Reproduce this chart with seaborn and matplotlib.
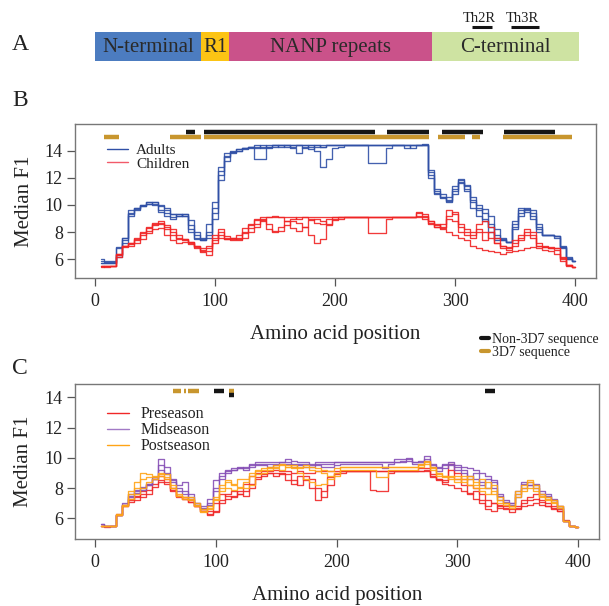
import matplotlib
matplotlib.use("Agg")
import matplotlib.pyplot as plt
import numpy as np
import pandas as pd
import seaborn as sns
from matplotlib.lines import Line2D

# ---------------- data ----------------
positions = [5, 10, 15, 20, 25, 30, 35, 40, 45, 50,
             55, 60, 65, 70, 75, 80, 85, 90, 95, 100,
             105, 110, 115, 120, 125, 130, 135, 140, 145, 150,
             155, 160, 165, 170, 175, 180, 185, 190, 195, 200,
             205, 210, 215, 220, 225, 230, 235, 240, 245, 250,
             255, 260, 265, 270, 275, 280, 285, 290, 295, 300,
             305, 310, 315, 320, 325, 330, 335, 340, 345, 350,
             355, 360, 365, 370, 375, 380, 385, 390, 395, 400]

# Panel B - adults (blue)
adults_1 = [6.0, 5.9, 5.9, 6.9, 7.6, 9.6, 9.8, 10.0, 10.2, 10.2,
            10.0, 9.8, 9.3, 9.2, 9.3, 8.9, 8.0, 7.6, 8.6, 10.2,
            12.8, 13.8, 14.0, 14.1, 14.2, 14.3, 13.4, 13.4, 14.2, 14.3,
            14.4, 14.4, 14.3, 14.4, 14.4, 14.4, 14.4, 14.3, 14.4, 14.4,
            14.4, 14.4, 14.4, 14.4, 14.4, 14.4, 14.4, 14.4, 14.4, 14.4,
            14.4, 14.4, 14.4, 14.4, 14.5, 12.4, 11.0, 10.6, 10.4, 11.0,
            11.8, 11.4, 10.2, 9.8, 9.4, 8.6, 7.6, 7.4, 7.3, 8.6,
            9.6, 9.8, 9.4, 8.2, 7.8, 7.8, 7.7, 7.0, 6.2, 5.9]
adults_2 = [5.75, 5.7, 5.7, 6.2, 7.4, 9.2, 9.6, 9.9, 10.1, 10.2,
            9.5, 9.2, 9.0, 9.3, 9.2, 8.2, 7.6, 7.4, 7.6, 9.8,
            12.5, 13.6, 13.9, 14.1, 14.2, 14.2, 14.4, 14.3, 14.4, 14.4,
            14.3, 14.4, 14.4, 14.4, 14.2, 14.3, 14.0, 12.8, 13.4, 14.2,
            14.3, 14.4, 14.4, 14.4, 14.4, 14.4, 14.4, 14.4, 14.4, 14.4,
            14.4, 14.2, 14.4, 14.4, 14.4, 12.0, 10.8, 10.5, 10.3, 11.2,
            11.6, 11.2, 9.8, 9.2, 8.8, 8.0, 7.4, 7.4, 7.3, 8.2,
            9.4, 9.6, 9.2, 8.0, 7.8, 7.8, 7.6, 6.8, 6.0, 5.9]
adults_3 = [5.9, 5.8, 5.8, 6.8, 7.6, 9.4, 9.8, 10.0, 10.1, 10.0,
            9.9, 9.6, 9.3, 9.3, 9.2, 8.5, 7.8, 7.5, 8.0, 9.4,
            11.8, 13.2, 13.8, 14.0, 14.2, 14.3, 14.3, 14.2, 14.3, 14.4,
            14.4, 14.4, 14.2, 13.8, 14.3, 14.4, 14.3, 14.4, 14.4, 14.4,
            14.4, 14.4, 14.4, 14.4, 14.4, 13.1, 13.1, 13.1, 14.2, 14.4,
            14.4, 14.4, 14.4, 14.4, 14.4, 12.6, 11.2, 10.8, 10.6, 11.4,
            11.9, 11.0, 10.6, 10.0, 9.0, 8.4, 7.8, 7.5, 7.3, 8.8,
            9.8, 9.5, 9.0, 8.4, 7.8, 7.8, 7.7, 6.9, 6.1, 5.9]
adults_4 = [5.75, 5.7, 5.7, 6.3, 7.2, 9.3, 9.7, 9.9, 10.2, 10.1,
            9.6, 9.4, 9.1, 9.2, 9.3, 8.0, 7.5, 7.4, 7.8, 9.0,
            12.2, 13.5, 13.9, 14.0, 14.1, 14.3, 14.2, 14.4, 14.3, 14.4,
            14.4, 14.3, 14.4, 14.4, 14.4, 14.1, 14.4, 14.3, 14.4, 14.4,
            14.4, 14.4, 14.4, 14.4, 14.4, 14.4, 14.4, 14.4, 14.4, 14.4,
            14.4, 14.4, 14.2, 14.4, 14.4, 12.2, 10.9, 10.6, 10.2, 10.8,
            11.7, 11.5, 10.4, 9.6, 9.7, 9.2, 8.2, 7.6, 7.3, 8.4,
            9.2, 9.7, 9.6, 8.6, 7.8, 7.8, 7.7, 6.9, 6.0, 5.9]

# Panel B - children (red)
children_1 = [5.5, 5.5, 5.5, 6.4, 7.0, 7.2, 7.6, 8.0, 8.4, 8.7,
              8.8, 8.5, 8.2, 7.8, 7.5, 7.3, 7.0, 6.7, 7.0, 7.8,
              7.6, 7.5, 7.6, 7.8, 8.3, 8.6, 9.0, 9.1, 9.1, 9.1,
              9.1, 9.1, 9.1, 9.0, 9.1, 9.1, 9.1, 9.1, 9.1, 9.1,
              9.1, 9.1, 9.1, 9.1, 9.1, 9.1, 9.1, 9.1, 9.1, 9.1,
              9.1, 9.1, 9.1, 9.5, 9.3, 8.8, 8.6, 8.4, 9.6, 9.3,
              8.6, 8.2, 8.0, 8.6, 8.8, 8.4, 7.6, 7.0, 6.9, 7.4,
              7.8, 8.2, 8.0, 7.2, 7.0, 6.9, 6.8, 6.2, 5.6, 5.45]
children_2 = [5.45, 5.5, 5.5, 6.2, 6.9, 7.0, 7.2, 7.5, 7.9, 8.2,
              8.3, 7.8, 7.4, 7.2, 7.3, 7.1, 6.8, 6.5, 6.3, 7.2,
              7.8, 7.5, 7.4, 7.4, 7.6, 8.0, 8.4, 8.8, 8.2, 8.1,
              8.4, 8.8, 8.8, 8.7, 8.4, 7.8, 7.2, 7.5, 8.5, 8.9,
              9.0, 9.1, 9.1, 9.1, 9.1, 7.9, 7.9, 7.9, 9.0, 9.1,
              9.1, 9.1, 9.1, 9.1, 9.1, 8.8, 8.4, 8.2, 8.0, 7.8,
              7.6, 7.4, 7.0, 6.8, 6.7, 6.6, 6.5, 6.4, 6.5, 6.6,
              6.7, 6.8, 6.9, 6.8, 6.7, 6.6, 6.4, 5.9, 5.5, 5.45]
children_3 = [5.5, 5.45, 5.5, 6.3, 7.0, 7.1, 7.4, 7.8, 8.1, 8.5,
              8.6, 8.2, 7.8, 7.5, 7.4, 7.2, 6.9, 6.6, 6.6, 7.4,
              8.2, 7.7, 7.6, 7.5, 7.9, 8.3, 8.6, 8.9, 9.1, 9.2,
              9.1, 8.8, 8.3, 8.1, 8.4, 8.9, 9.0, 8.8, 8.6, 9.0,
              9.1, 9.1, 9.1, 9.1, 9.1, 9.1, 9.1, 9.1, 9.1, 9.1,
              9.1, 9.1, 9.1, 9.4, 9.2, 8.7, 8.5, 8.3, 9.2, 9.5,
              8.4, 8.0, 7.8, 8.2, 8.0, 7.6, 7.2, 6.8, 6.7, 7.0,
              7.4, 7.8, 7.6, 7.0, 6.9, 6.8, 6.8, 6.1, 5.6, 5.45]
children_4 = [5.5, 5.5, 5.5, 6.4, 7.0, 7.2, 7.5, 7.9, 8.3, 8.6,
              8.7, 8.4, 8.0, 7.6, 7.5, 7.3, 7.0, 6.8, 6.8, 7.6,
              8.0, 7.6, 7.5, 7.6, 8.0, 8.5, 8.9, 9.0, 8.6, 8.0,
              8.1, 8.5, 9.0, 9.1, 9.1, 9.0, 8.7, 8.6, 9.0, 9.1,
              9.1, 9.1, 9.1, 9.1, 9.1, 9.1, 9.1, 9.1, 9.1, 9.1,
              9.1, 9.1, 9.1, 9.2, 9.0, 8.6, 8.4, 8.6, 9.0, 8.8,
              8.0, 7.8, 7.6, 8.0, 7.4, 8.0, 7.2, 7.0, 6.8, 7.2,
              7.6, 8.0, 7.8, 7.0, 6.9, 6.8, 6.7, 6.0, 5.6, 5.45]

# Panel C - preseason (red)
pre_1 = [5.5, 5.5, 5.5, 6.2, 6.8, 7.1, 7.2, 7.4, 7.6, 8.1,
         8.4, 8.3, 7.8, 7.5, 7.3, 7.2, 6.8, 6.5, 6.3, 6.5,
         7.2, 7.3, 7.5, 7.6, 7.8, 8.3, 8.7, 8.8, 9.0, 8.8,
         9.0, 8.5, 8.3, 8.8, 8.5, 8.0, 7.2, 7.8, 8.7, 9.0,
         9.1, 9.1, 9.1, 9.1, 9.1, 7.9, 7.8, 7.8, 9.0, 9.1,
         9.1, 9.1, 9.1, 9.1, 9.1, 8.8, 8.6, 8.3, 8.2, 8.0,
         7.8, 7.7, 7.3, 7.0, 6.6, 6.5, 6.8, 6.7, 6.6, 6.7,
         6.8, 6.9, 7.0, 6.9, 6.8, 6.6, 6.5, 5.8, 5.5, 5.45]
pre_2 = [5.5, 5.45, 5.5, 6.3, 6.9, 7.3, 7.5, 7.8, 8.2, 8.6,
         8.8, 8.6, 8.0, 7.4, 7.4, 7.1, 6.8, 6.6, 6.5, 7.0,
         7.6, 7.5, 7.4, 7.8, 8.3, 8.8, 9.0, 9.1, 9.1, 9.2,
         9.1, 9.1, 9.0, 9.1, 9.0, 9.0, 9.1, 9.1, 9.1, 9.1,
         9.1, 9.1, 9.1, 9.1, 9.1, 9.1, 9.1, 9.1, 9.1, 9.1,
         9.1, 9.1, 9.1, 9.3, 9.3, 8.9, 8.6, 8.5, 9.6, 9.0,
         8.6, 8.2, 8.0, 7.6, 7.2, 7.0, 6.9, 6.8, 6.8, 6.8,
         7.0, 7.2, 7.3, 7.1, 7.0, 6.8, 6.6, 5.9, 5.5, 5.45]
pre_3 = [5.5, 5.5, 5.5, 6.2, 6.8, 7.2, 7.4, 7.6, 7.9, 8.3,
         8.5, 8.4, 7.9, 7.5, 7.3, 7.1, 6.8, 6.5, 6.2, 6.4,
         7.0, 7.6, 7.8, 7.6, 7.5, 8.0, 8.6, 8.9, 9.0, 9.0,
         8.9, 8.9, 8.5, 8.2, 8.8, 8.6, 8.0, 7.4, 8.2, 8.9,
         9.0, 9.1, 9.1, 9.1, 9.1, 9.1, 9.1, 9.1, 9.1, 9.1,
         9.1, 9.1, 9.1, 9.1, 9.2, 8.7, 8.5, 8.4, 9.2, 8.6,
         8.2, 7.6, 7.8, 7.2, 6.8, 7.0, 6.7, 6.6, 6.4, 6.6,
         7.2, 7.4, 7.6, 7.2, 6.8, 6.7, 6.5, 5.8, 5.5, 5.45]

# Panel C - midseason (purple)
mid_1 = [5.6, 5.5, 5.5, 6.2, 7.0, 7.6, 7.9, 8.1, 8.3, 8.6,
         9.9, 9.4, 8.6, 8.2, 8.4, 7.6, 7.0, 6.8, 7.3, 8.5,
         9.0, 9.2, 9.3, 9.4, 9.2, 9.6, 9.7, 9.7, 9.7, 9.7,
         9.7, 9.9, 9.8, 9.7, 9.7, 9.6, 9.7, 9.7, 9.7, 9.7,
         9.7, 9.7, 9.7, 9.7, 9.7, 9.7, 9.7, 9.7, 9.7, 9.7,
         9.8, 10.0, 9.7, 9.8, 10.1, 9.6, 9.4, 9.6, 9.7, 9.5,
         9.4, 9.3, 9.2, 9.0, 8.8, 8.5, 7.5, 7.2, 7.0, 7.6,
         8.3, 8.4, 8.2, 7.8, 7.6, 7.3, 6.8, 5.8, 5.5, 5.45]
mid_2 = [5.6, 5.5, 5.5, 6.2, 6.9, 7.5, 7.7, 7.9, 8.2, 8.6,
         9.2, 8.9, 8.4, 7.8, 7.6, 7.3, 6.9, 6.6, 7.0, 8.0,
         8.6, 9.0, 9.2, 9.3, 9.4, 9.4, 9.5, 9.5, 9.4, 9.5,
         9.6, 9.6, 9.4, 9.5, 9.4, 9.4, 9.5, 9.4, 9.4, 9.5,
         9.6, 9.6, 9.6, 9.6, 9.6, 9.6, 9.6, 9.3, 9.6, 9.7,
         9.7, 9.8, 9.6, 9.6, 9.8, 9.4, 9.1, 9.3, 9.5, 9.2,
         9.0, 8.8, 8.6, 8.2, 8.6, 8.0, 7.2, 7.0, 6.9, 7.4,
         8.0, 8.2, 8.0, 7.6, 7.4, 7.2, 6.8, 5.8, 5.5, 5.45]
mid_3 = [5.5, 5.5, 5.5, 6.2, 6.9, 7.4, 7.8, 8.0, 8.3, 8.7,
         9.5, 9.0, 8.5, 8.0, 7.8, 7.4, 7.0, 6.7, 6.9, 7.8,
         8.8, 9.1, 9.2, 9.3, 9.3, 9.5, 9.6, 9.6, 9.6, 9.6,
         9.7, 9.7, 9.6, 9.6, 9.6, 9.5, 9.6, 9.6, 9.6, 9.7,
         9.7, 9.7, 9.7, 9.7, 9.7, 9.7, 9.7, 9.7, 9.7, 9.9,
         9.9, 9.9, 9.7, 9.7, 9.9, 9.5, 9.3, 9.5, 9.6, 9.4,
         9.2, 8.6, 9.0, 8.4, 8.0, 8.4, 7.6, 7.1, 7.0, 7.8,
         8.4, 8.2, 8.3, 7.6, 7.5, 7.2, 6.7, 5.8, 5.5, 5.45]

# Panel C - postseason (orange)
post_1 = [5.5, 5.5, 5.5, 6.2, 6.9, 7.8, 8.4, 9.0, 8.9, 8.8,
          9.0, 8.9, 8.2, 7.5, 7.4, 7.4, 7.0, 6.6, 6.8, 7.4,
          8.2, 8.4, 8.2, 8.1, 8.0, 8.2, 9.2, 9.3, 9.4, 9.5,
          9.5, 9.4, 9.5, 9.4, 9.5, 9.4, 9.3, 9.0, 8.8, 9.0,
          9.4, 9.4, 9.4, 9.4, 9.4, 9.4, 9.4, 9.4, 9.4, 9.4,
          9.4, 9.4, 9.4, 9.6, 9.8, 9.4, 9.0, 8.8, 8.8, 8.6,
          8.8, 8.6, 8.4, 8.0, 8.4, 7.6, 7.2, 7.0, 6.8, 7.8,
          8.2, 8.5, 8.2, 7.6, 7.4, 7.2, 6.8, 5.8, 5.5, 5.45]
post_2 = [5.5, 5.5, 5.5, 6.2, 6.8, 7.3, 7.6, 8.0, 8.4, 8.6,
          8.9, 8.6, 8.0, 7.6, 7.4, 7.2, 6.8, 6.4, 6.6, 7.2,
          7.8, 8.0, 7.9, 8.0, 8.4, 8.8, 8.9, 9.0, 9.2, 9.3,
          9.2, 9.4, 9.3, 9.0, 8.6, 8.4, 8.2, 8.3, 8.6, 8.8,
          9.2, 9.2, 9.2, 9.2, 9.2, 9.2, 8.7, 8.7, 9.2, 9.2,
          9.2, 9.2, 9.2, 9.4, 9.6, 9.2, 8.8, 8.7, 8.6, 8.4,
          8.6, 8.2, 8.0, 7.8, 7.6, 7.8, 7.0, 6.9, 6.7, 7.4,
          7.8, 8.0, 7.8, 7.4, 7.2, 7.0, 6.7, 5.8, 5.5, 5.45]
post_3 = [5.5, 5.5, 5.5, 6.3, 6.9, 7.6, 8.0, 8.6, 8.7, 8.7,
          8.8, 8.7, 8.0, 7.5, 7.3, 7.3, 6.9, 6.5, 6.7, 7.3,
          8.0, 8.5, 8.3, 8.6, 8.6, 9.0, 9.1, 9.2, 9.3, 9.4,
          9.6, 9.5, 9.4, 9.3, 9.4, 9.2, 9.1, 9.2, 9.1, 9.3,
          9.4, 9.4, 9.4, 9.4, 9.4, 9.4, 9.4, 9.4, 9.4, 9.4,
          9.4, 9.4, 9.4, 9.5, 9.7, 9.3, 8.9, 8.8, 8.7, 8.8,
          8.4, 8.8, 8.2, 8.6, 8.0, 8.2, 7.4, 7.0, 6.8, 7.6,
          8.0, 8.4, 8.0, 7.5, 7.3, 7.1, 6.8, 5.8, 5.5, 5.45]

# Sequence markers (start, end of amino-acid ranges)
b_3d7_start = [8, 63, 91, 286, 314, 340]
b_3d7_end = [20, 88.5, 278, 308, 320.5, 397]
b_non3d7_start = [76, 91, 243.5, 289, 340.5]
b_non3d7_end = [83.5, 233, 278, 323.5, 383]
c_3d7_start = [65, 73.5, 77.5, 111]
c_3d7_end = [71.3, 75.7, 86.6, 115]
c_non3d7_start = [98.4, 322.5]
c_non3d7_end = [106.7, 331.4]
c_non3d7_low_start = [111]
c_non3d7_low_end = [115]

# Panel A domains
domain_names = ["N-terminal", "R1", "NANP repeats", "C-terminal"]
domain_start = [0, 89, 111.7, 280.4]
domain_end = [89, 111.7, 280.4, 403]
domain_colors = ["#4c7cc0", "#fcc414", "#ca528a", "#cee3a2"]
epitope_names = ["Th2R", "Th3R"]
epitope_start = [314.4, 346.3]
epitope_end = [330.5, 369.8]

# ---------------- styling ----------------
sns.set_theme(style="white")
plt.rcParams["font.family"] = ["Liberation Serif", "DejaVu Serif"]
plt.rcParams["text.color"] = "#222222"
plt.rcParams["axes.labelcolor"] = "#222222"

W, H = 609, 606
fig = plt.figure(figsize=(W / 100, H / 100), dpi=100)
axB = fig.add_axes([75.3 / W, 1 - 278 / H, 520.4 / W, 154 / H])
axC = fig.add_axes([75.3 / W, 1 - 539 / H, 523.7 / W, 155 / H])
axA = fig.add_axes([75.3 / W, 1 - 75 / H, 520.4 / W, 65 / H])


def long_df(lines):
    rows = []
    for group, unit, vals in lines:
        for p, v in zip(positions, vals):
            rows.append((group, unit, p, v))
    return pd.DataFrame(rows, columns=["group", "unit", "pos", "f1"])


df_b = long_df([("Adults", "a1", adults_1), ("Adults", "a2", adults_2),
                ("Adults", "a3", adults_3), ("Adults", "a4", adults_4),
                ("Children", "c1", children_1), ("Children", "c2", children_2),
                ("Children", "c3", children_3), ("Children", "c4", children_4)])
df_c = long_df([("Preseason", "p1", pre_1), ("Preseason", "p2", pre_2),
                ("Preseason", "p3", pre_3),
                ("Midseason", "m1", mid_1), ("Midseason", "m2", mid_2),
                ("Midseason", "m3", mid_3),
                ("Postseason", "q1", post_1), ("Postseason", "q2", post_2),
                ("Postseason", "q3", post_3)])

pal_b = {"Adults": "#3050a6", "Children": "#f02424"}
pal_c = {"Preseason": "#f02828", "Midseason": "#8650b6", "Postseason": "#ffa416"}

sns.lineplot(data=df_b, x="pos", y="f1", hue="group", units="unit",
             estimator=None, palette=pal_b, hue_order=["Adults", "Children"],
             drawstyle="steps-mid", linewidth=0.95, alpha=0.9,
             legend=False, ax=axB)
sns.lineplot(data=df_c, x="pos", y="f1", hue="group", units="unit",
             estimator=None, palette=pal_c,
             hue_order=["Preseason", "Midseason", "Postseason"],
             drawstyle="steps-mid", linewidth=0.95, alpha=0.9,
             legend=False, ax=axC)

gold = "#c8962e"
black = "#151515"
axB.hlines([15.03] * len(b_3d7_start), b_3d7_start, b_3d7_end, color=gold, lw=3.2)
axB.hlines([15.37] * len(b_non3d7_start), b_non3d7_start, b_non3d7_end, color=black, lw=3.2)
axC.hlines([14.42] * len(c_3d7_start), c_3d7_start, c_3d7_end, color=gold, lw=3.2)
axC.hlines([14.42] * len(c_non3d7_start), c_non3d7_start, c_non3d7_end, color=black, lw=3.2)
axC.hlines([14.15] * len(c_non3d7_low_start), c_non3d7_low_start, c_non3d7_low_end, color=black, lw=3.2)

for ax, ylim in [(axB, (4.62, 15.96)), (axC, (4.63, 14.88))]:
    ax.set_xlim(-16, 417)
    ax.set_ylim(*ylim)
    ax.set_xticks([0, 100, 200, 300, 400])
    ax.set_yticks([6, 8, 10, 12, 14])
    ax.tick_params(axis="both", which="both", direction="out", length=6,
                   width=0.9, color="#555555", labelsize=13,
                   labelcolor="#222222", left=True, bottom=True)
    ax.tick_params(axis="x", pad=5)
    ax.tick_params(axis="y", pad=3)
    for s in ax.spines.values():
        s.set_color("#777777")
        s.set_linewidth(1.0)
        s.set_visible(True)
    ax.set_xlabel("Amino acid position", fontsize=15)
    ax.set_ylabel("Median F1", fontsize=15)

axB.xaxis.set_label_coords(0.5, -0.308)
axC.xaxis.set_label_coords(0.5, -0.303)
axB.yaxis.set_label_coords(-0.08, 0.5)
axC.yaxis.set_label_coords(-0.08, 0.5)

# legends
hb = [Line2D([], [], color=pal_b["Adults"], lw=1.0),
      Line2D([], [], color="#f25a6a", lw=1.0)]
axB.legend(hb, ["Adults", "Children"], loc="upper left",
           bbox_to_anchor=(0.06, 0.875), frameon=False, fontsize=11,
           handlelength=1.4, handletextpad=0.55, labelspacing=0.0,
           borderpad=0, borderaxespad=0)
hc = [Line2D([], [], color=pal_c["Preseason"], lw=1.0),
      Line2D([], [], color="#a27ac6", lw=1.0),
      Line2D([], [], color=pal_c["Postseason"], lw=1.0)]
axC.legend(hc, ["Preseason", "Midseason", "Postseason"], loc="upper left",
           bbox_to_anchor=(0.06, 0.855), frameon=False, fontsize=11.5,
           handlelength=1.4, handletextpad=0.7, labelspacing=0.0,
           borderpad=0, borderaxespad=0)
hs = [Line2D([], [], color=black, lw=3), Line2D([], [], color=gold, lw=3)]
fig.legend(hs, ["Non-3D7 sequence", "3D7 sequence"], loc="upper left",
           bbox_to_anchor=(481 / W, 1 - 333 / H), frameon=False, fontsize=10,
           handlelength=0.55, handletextpad=0.25, labelspacing=0.02,
           borderpad=0, borderaxespad=0)

# Panel A
axA.set_xlim(-16, 417)
axA.set_ylim(75, 10)
axA.axis("off")
widths = [e - s for s, e in zip(domain_start, domain_end)]
axA.barh([46.35] * 4, widths, left=domain_start, height=29.3,
         color=domain_colors, edgecolor="none")
for n, s, e in zip(domain_names, domain_start, domain_end):
    axA.text((s + e) / 2, 47.5, n, ha="center", va="center", fontsize=15,
             color="#2a2a2a")
axA.hlines([26.7] * 2, epitope_start, epitope_end, color=black, lw=2.2)
for n, s, e in zip(epitope_names, epitope_start, epitope_end):
    axA.text((s + e) / 2 - 2.5, 18.3, n, ha="center", va="center",
             fontsize=10.5, color="#222222")

for letter, (x, y) in zip(["A", "B", "C"], [(20, 44), (20, 101), (20, 369)]):
    fig.text(x / W, 1 - y / H, letter, fontsize=17, ha="center",
             va="center", color="#222222")

fig.savefig("out.png", dpi=100)
